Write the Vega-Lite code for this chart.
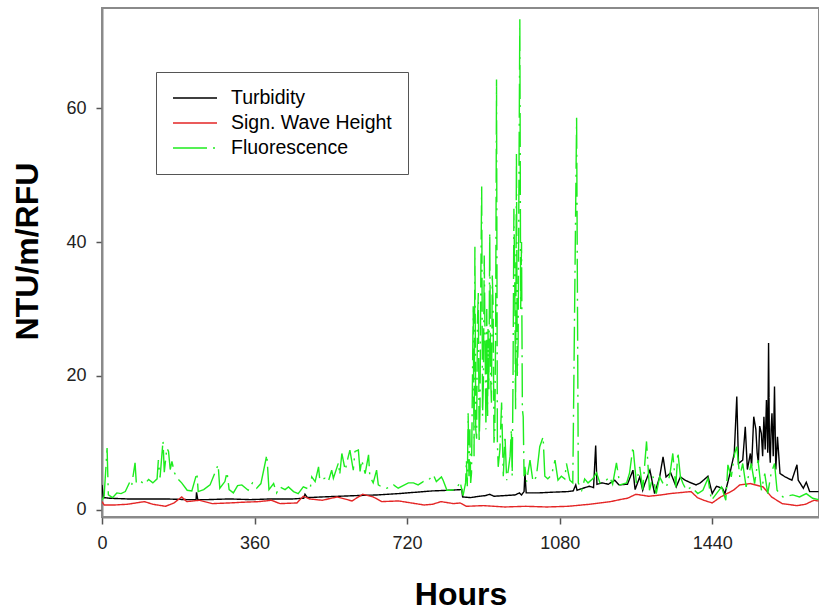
{
  "$schema": "https://vega.github.io/schema/vega-lite/v6.json",
  "width": 717,
  "height": 509,
  "autosize": {"type": "none"},
  "padding": {"left": 102, "top": 8, "right": 0, "bottom": 93},
  "background": "white",
  "config": {"font": "Liberation Sans", "view": {"stroke": "#8a8a8a", "strokeWidth": 2}},
  "data": {"values": [
    {"s":"Turbidity","h":0,"v":3.7},{"s":"Turbidity","h":3,"v":1.8},{"s":"Turbidity","h":20,"v":1.7},{"s":"Turbidity","h":60,"v":1.6},{"s":"Turbidity","h":100,"v":1.6},{"s":"Turbidity","h":150,"v":1.6},{"s":"Turbidity","h":200,"v":1.5},{"s":"Turbidity","h":222,"v":1.5},{"s":"Turbidity","h":223,"v":2.6},{"s":"Turbidity","h":226,"v":1.5},{"s":"Turbidity","h":250,"v":1.5},{"s":"Turbidity","h":300,"v":1.6},{"s":"Turbidity","h":350,"v":1.5},{"s":"Turbidity","h":400,"v":1.6},{"s":"Turbidity","h":450,"v":1.6},{"s":"Turbidity","h":476,"v":1.7},{"s":"Turbidity","h":479,"v":2.3},{"s":"Turbidity","h":485,"v":1.8},{"s":"Turbidity","h":520,"v":1.9},{"s":"Turbidity","h":560,"v":2.0},{"s":"Turbidity","h":600,"v":2.1},{"s":"Turbidity","h":650,"v":2.2},{"s":"Turbidity","h":700,"v":2.4},{"s":"Turbidity","h":740,"v":2.6},{"s":"Turbidity","h":780,"v":2.8},{"s":"Turbidity","h":820,"v":2.9},{"s":"Turbidity","h":849,"v":3.0},{"s":"Turbidity","h":851,"v":1.9},{"s":"Turbidity","h":870,"v":1.8},{"s":"Turbidity","h":890,"v":2.0},{"s":"Turbidity","h":905,"v":2.1},{"s":"Turbidity","h":915,"v":2.3},{"s":"Turbidity","h":925,"v":2.0},{"s":"Turbidity","h":950,"v":2.1},{"s":"Turbidity","h":975,"v":2.2},{"s":"Turbidity","h":985,"v":2.5},{"s":"Turbidity","h":990,"v":2.2},{"s":"Turbidity","h":996,"v":2.7},{"s":"Turbidity","h":998,"v":5.5},{"s":"Turbidity","h":1001,"v":2.5},{"s":"Turbidity","h":1030,"v":2.5},{"s":"Turbidity","h":1060,"v":2.6},{"s":"Turbidity","h":1100,"v":2.7},{"s":"Turbidity","h":1112,"v":2.8},{"s":"Turbidity","h":1118,"v":3.7},{"s":"Turbidity","h":1121,"v":2.9},{"s":"Turbidity","h":1135,"v":3.2},{"s":"Turbidity","h":1150,"v":3.5},{"s":"Turbidity","h":1160,"v":3.3},{"s":"Turbidity","h":1165,"v":9.6},{"s":"Turbidity","h":1168,"v":3.8},{"s":"Turbidity","h":1180,"v":4.0},{"s":"Turbidity","h":1195,"v":3.8},{"s":"Turbidity","h":1210,"v":4.4},{"s":"Turbidity","h":1220,"v":3.7},{"s":"Turbidity","h":1240,"v":3.8},{"s":"Turbidity","h":1253,"v":5.9},{"s":"Turbidity","h":1258,"v":3.0},{"s":"Turbidity","h":1269,"v":4.9},{"s":"Turbidity","h":1276,"v":2.9},{"s":"Turbidity","h":1281,"v":3.9},{"s":"Turbidity","h":1293,"v":5.9},{"s":"Turbidity","h":1304,"v":2.4},{"s":"Turbidity","h":1316,"v":4.9},{"s":"Turbidity","h":1324,"v":7.9},{"s":"Turbidity","h":1331,"v":4.9},{"s":"Turbidity","h":1342,"v":5.5},{"s":"Turbidity","h":1355,"v":3.4},{"s":"Turbidity","h":1365,"v":4.9},{"s":"Turbidity","h":1376,"v":4.4},{"s":"Turbidity","h":1390,"v":4.0},{"s":"Turbidity","h":1402,"v":3.7},{"s":"Turbidity","h":1412,"v":4.0},{"s":"Turbidity","h":1430,"v":5.0},{"s":"Turbidity","h":1440,"v":2.4},{"s":"Turbidity","h":1450,"v":3.5},{"s":"Turbidity","h":1464,"v":3.2},{"s":"Turbidity","h":1470,"v":2.4},{"s":"Turbidity","h":1480,"v":4.9},{"s":"Turbidity","h":1492,"v":8.4},{"s":"Turbidity","h":1498,"v":16.9},{"s":"Turbidity","h":1502,"v":6.9},{"s":"Turbidity","h":1512,"v":7.4},{"s":"Turbidity","h":1518,"v":12.4},{"s":"Turbidity","h":1523,"v":6.0},{"s":"Turbidity","h":1530,"v":8.4},{"s":"Turbidity","h":1533,"v":6.5},{"s":"Turbidity","h":1538,"v":13.9},{"s":"Turbidity","h":1543,"v":12.0},{"s":"Turbidity","h":1546,"v":8.5},{"s":"Turbidity","h":1549,"v":7.0},{"s":"Turbidity","h":1552,"v":12.5},{"s":"Turbidity","h":1556,"v":11.4},{"s":"Turbidity","h":1559,"v":8.0},{"s":"Turbidity","h":1562,"v":13.9},{"s":"Turbidity","h":1565,"v":9.0},{"s":"Turbidity","h":1568,"v":16.4},{"s":"Turbidity","h":1571,"v":8.5},{"s":"Turbidity","h":1573,"v":24.9},{"s":"Turbidity","h":1575,"v":9.5},{"s":"Turbidity","h":1577,"v":7.0},{"s":"Turbidity","h":1579,"v":12.0},{"s":"Turbidity","h":1581,"v":14.4},{"s":"Turbidity","h":1584,"v":8.0},{"s":"Turbidity","h":1587,"v":18.4},{"s":"Turbidity","h":1590,"v":6.0},{"s":"Turbidity","h":1594,"v":10.9},{"s":"Turbidity","h":1600,"v":5.4},{"s":"Turbidity","h":1612,"v":4.9},{"s":"Turbidity","h":1628,"v":4.4},{"s":"Turbidity","h":1640,"v":6.7},{"s":"Turbidity","h":1643,"v":4.4},{"s":"Turbidity","h":1655,"v":3.2},{"s":"Turbidity","h":1662,"v":4.1},{"s":"Turbidity","h":1670,"v":2.7},{"s":"Turbidity","h":1691,"v":2.7},

    {"s":"Sign. Wave Height","h":0,"v":1.2},{"s":"Sign. Wave Height","h":5,"v":0.7},{"s":"Sign. Wave Height","h":30,"v":0.7},{"s":"Sign. Wave Height","h":60,"v":0.8},{"s":"Sign. Wave Height","h":80,"v":1.0},{"s":"Sign. Wave Height","h":100,"v":1.2},{"s":"Sign. Wave Height","h":120,"v":0.8},{"s":"Sign. Wave Height","h":150,"v":0.5},{"s":"Sign. Wave Height","h":170,"v":1.0},{"s":"Sign. Wave Height","h":188,"v":1.9},{"s":"Sign. Wave Height","h":200,"v":1.2},{"s":"Sign. Wave Height","h":230,"v":1.4},{"s":"Sign. Wave Height","h":260,"v":0.9},{"s":"Sign. Wave Height","h":300,"v":1.0},{"s":"Sign. Wave Height","h":330,"v":1.1},{"s":"Sign. Wave Height","h":370,"v":1.2},{"s":"Sign. Wave Height","h":400,"v":1.4},{"s":"Sign. Wave Height","h":420,"v":0.9},{"s":"Sign. Wave Height","h":460,"v":1.0},{"s":"Sign. Wave Height","h":475,"v":2.0},{"s":"Sign. Wave Height","h":490,"v":1.6},{"s":"Sign. Wave Height","h":520,"v":1.4},{"s":"Sign. Wave Height","h":555,"v":1.9},{"s":"Sign. Wave Height","h":590,"v":1.3},{"s":"Sign. Wave Height","h":615,"v":2.3},{"s":"Sign. Wave Height","h":640,"v":1.9},{"s":"Sign. Wave Height","h":660,"v":1.2},{"s":"Sign. Wave Height","h":700,"v":1.3},{"s":"Sign. Wave Height","h":730,"v":1.0},{"s":"Sign. Wave Height","h":760,"v":0.7},{"s":"Sign. Wave Height","h":780,"v":0.8},{"s":"Sign. Wave Height","h":800,"v":1.2},{"s":"Sign. Wave Height","h":830,"v":0.9},{"s":"Sign. Wave Height","h":845,"v":1.0},{"s":"Sign. Wave Height","h":860,"v":0.5},{"s":"Sign. Wave Height","h":900,"v":0.6},{"s":"Sign. Wave Height","h":950,"v":0.4},{"s":"Sign. Wave Height","h":1000,"v":0.5},{"s":"Sign. Wave Height","h":1050,"v":0.4},{"s":"Sign. Wave Height","h":1100,"v":0.5},{"s":"Sign. Wave Height","h":1150,"v":0.8},{"s":"Sign. Wave Height","h":1200,"v":1.2},{"s":"Sign. Wave Height","h":1230,"v":1.6},{"s":"Sign. Wave Height","h":1240,"v":1.7},{"s":"Sign. Wave Height","h":1260,"v":2.3},{"s":"Sign. Wave Height","h":1290,"v":2.0},{"s":"Sign. Wave Height","h":1320,"v":2.2},{"s":"Sign. Wave Height","h":1340,"v":2.4},{"s":"Sign. Wave Height","h":1390,"v":2.7},{"s":"Sign. Wave Height","h":1405,"v":1.8},{"s":"Sign. Wave Height","h":1420,"v":1.4},{"s":"Sign. Wave Height","h":1440,"v":1.0},{"s":"Sign. Wave Height","h":1460,"v":1.9},{"s":"Sign. Wave Height","h":1490,"v":2.9},{"s":"Sign. Wave Height","h":1505,"v":3.7},{"s":"Sign. Wave Height","h":1530,"v":3.9},{"s":"Sign. Wave Height","h":1560,"v":3.4},{"s":"Sign. Wave Height","h":1580,"v":1.9},{"s":"Sign. Wave Height","h":1605,"v":0.9},{"s":"Sign. Wave Height","h":1640,"v":0.6},{"s":"Sign. Wave Height","h":1660,"v":0.8},{"s":"Sign. Wave Height","h":1680,"v":1.4},{"s":"Sign. Wave Height","h":1691,"v":1.3},

    {"s":"Fluorescence","h":0,"v":1.4},{"s":"Fluorescence","h":5,"v":2.0},{"s":"Fluorescence","h":12,"v":9.2},{"s":"Fluorescence","h":15,"v":2.2},{"s":"Fluorescence","h":25,"v":1.8},{"s":"Fluorescence","h":35,"v":2.5},{"s":"Fluorescence","h":45,"v":2.4},{"s":"Fluorescence","h":55,"v":2.7},{"s":"Fluorescence","h":66,"v":4.2},{"s":"Fluorescence","h":70,"v":3.6},{"s":"Fluorescence","h":78,"v":7.0},{"s":"Fluorescence","h":81,"v":4.0},{"s":"Fluorescence","h":90,"v":4.3},{"s":"Fluorescence","h":100,"v":3.8},{"s":"Fluorescence","h":110,"v":4.5},{"s":"Fluorescence","h":120,"v":4.0},{"s":"Fluorescence","h":130,"v":4.6},{"s":"Fluorescence","h":133,"v":7.4},{"s":"Fluorescence","h":137,"v":4.8},{"s":"Fluorescence","h":144,"v":10.3},{"s":"Fluorescence","h":147,"v":5.6},{"s":"Fluorescence","h":153,"v":9.2},{"s":"Fluorescence","h":157,"v":8.7},{"s":"Fluorescence","h":161,"v":6.0},{"s":"Fluorescence","h":165,"v":7.2},{"s":"Fluorescence","h":171,"v":5.5},{"s":"Fluorescence","h":179,"v":4.6},{"s":"Fluorescence","h":188,"v":4.0},{"s":"Fluorescence","h":201,"v":2.9},{"s":"Fluorescence","h":212,"v":2.8},{"s":"Fluorescence","h":224,"v":5.5},{"s":"Fluorescence","h":227,"v":2.7},{"s":"Fluorescence","h":240,"v":3.0},{"s":"Fluorescence","h":255,"v":3.7},{"s":"Fluorescence","h":274,"v":6.7},{"s":"Fluorescence","h":278,"v":3.2},{"s":"Fluorescence","h":290,"v":4.2},{"s":"Fluorescence","h":295,"v":5.6},{"s":"Fluorescence","h":300,"v":3.0},{"s":"Fluorescence","h":310,"v":2.5},{"s":"Fluorescence","h":320,"v":3.6},{"s":"Fluorescence","h":330,"v":3.7},{"s":"Fluorescence","h":345,"v":2.9},{"s":"Fluorescence","h":355,"v":4.0},{"s":"Fluorescence","h":365,"v":3.2},{"s":"Fluorescence","h":375,"v":3.9},{"s":"Fluorescence","h":389,"v":8.2},{"s":"Fluorescence","h":394,"v":3.0},{"s":"Fluorescence","h":405,"v":3.9},{"s":"Fluorescence","h":412,"v":2.5},{"s":"Fluorescence","h":420,"v":3.4},{"s":"Fluorescence","h":432,"v":3.0},{"s":"Fluorescence","h":440,"v":3.4},{"s":"Fluorescence","h":452,"v":2.7},{"s":"Fluorescence","h":463,"v":2.4},{"s":"Fluorescence","h":475,"v":3.4},{"s":"Fluorescence","h":491,"v":3.0},{"s":"Fluorescence","h":495,"v":4.9},{"s":"Fluorescence","h":503,"v":4.2},{"s":"Fluorescence","h":511,"v":6.4},{"s":"Fluorescence","h":514,"v":4.4},{"s":"Fluorescence","h":526,"v":4.7},{"s":"Fluorescence","h":534,"v":4.2},{"s":"Fluorescence","h":542,"v":5.9},{"s":"Fluorescence","h":546,"v":4.7},{"s":"Fluorescence","h":558,"v":7.0},{"s":"Fluorescence","h":561,"v":5.2},{"s":"Fluorescence","h":566,"v":8.4},{"s":"Fluorescence","h":574,"v":5.9},{"s":"Fluorescence","h":581,"v":7.9},{"s":"Fluorescence","h":585,"v":8.9},{"s":"Fluorescence","h":593,"v":5.9},{"s":"Fluorescence","h":597,"v":8.7},{"s":"Fluorescence","h":605,"v":8.9},{"s":"Fluorescence","h":609,"v":5.7},{"s":"Fluorescence","h":613,"v":7.4},{"s":"Fluorescence","h":621,"v":5.4},{"s":"Fluorescence","h":629,"v":8.2},{"s":"Fluorescence","h":632,"v":5.0},{"s":"Fluorescence","h":640,"v":4.0},{"s":"Fluorescence","h":648,"v":5.9},{"s":"Fluorescence","h":652,"v":3.7},{"s":"Fluorescence","h":660,"v":3.4},{"s":"Fluorescence","h":672,"v":3.2},{"s":"Fluorescence","h":688,"v":3.7},{"s":"Fluorescence","h":699,"v":3.2},{"s":"Fluorescence","h":723,"v":4.0},{"s":"Fluorescence","h":735,"v":4.0},{"s":"Fluorescence","h":746,"v":3.7},{"s":"Fluorescence","h":758,"v":4.2},{"s":"Fluorescence","h":770,"v":4.4},{"s":"Fluorescence","h":782,"v":5.2},{"s":"Fluorescence","h":789,"v":4.2},{"s":"Fluorescence","h":801,"v":4.9},{"s":"Fluorescence","h":805,"v":4.4},{"s":"Fluorescence","h":814,"v":2.9},{"s":"Fluorescence","h":821,"v":2.9},{"s":"Fluorescence","h":833,"v":3.0},{"s":"Fluorescence","h":837,"v":3.1},{"s":"Fluorescence","h":845,"v":4.2},{"s":"Fluorescence","h":852,"v":2.1},{"s":"Fluorescence","h":858,"v":4.0},{"s":"Fluorescence","h":860,"v":7.4},{"s":"Fluorescence","h":862,"v":3.5},{"s":"Fluorescence","h":864,"v":14.4},{"s":"Fluorescence","h":866,"v":5.0},{"s":"Fluorescence","h":868,"v":12.0},{"s":"Fluorescence","h":870,"v":4.0},{"s":"Fluorescence","h":872,"v":5.5},{"s":"Fluorescence","h":874,"v":18.0},{"s":"Fluorescence","h":876,"v":30.4},{"s":"Fluorescence","h":878,"v":8.0},{"s":"Fluorescence","h":880,"v":39.3},{"s":"Fluorescence","h":882,"v":12.0},{"s":"Fluorescence","h":884,"v":10.6},{"s":"Fluorescence","h":886,"v":28.0},{"s":"Fluorescence","h":888,"v":32.4},{"s":"Fluorescence","h":890,"v":10.0},{"s":"Fluorescence","h":892,"v":15.0},{"s":"Fluorescence","h":894,"v":35.0},{"s":"Fluorescence","h":896,"v":48.3},{"s":"Fluorescence","h":898,"v":14.0},{"s":"Fluorescence","h":900,"v":19.0},{"s":"Fluorescence","h":902,"v":38.0},{"s":"Fluorescence","h":904,"v":25.0},{"s":"Fluorescence","h":906,"v":12.0},{"s":"Fluorescence","h":908,"v":30.0},{"s":"Fluorescence","h":910,"v":14.0},{"s":"Fluorescence","h":911,"v":27.0},{"s":"Fluorescence","h":913,"v":18.0},{"s":"Fluorescence","h":915,"v":41.4},{"s":"Fluorescence","h":917,"v":20.0},{"s":"Fluorescence","h":919,"v":16.0},{"s":"Fluorescence","h":921,"v":35.0},{"s":"Fluorescence","h":923,"v":30.4},{"s":"Fluorescence","h":925,"v":10.0},{"s":"Fluorescence","h":927,"v":12.0},{"s":"Fluorescence","h":929,"v":28.0},{"s":"Fluorescence","h":931,"v":64.3},{"s":"Fluorescence","h":933,"v":10.0},{"s":"Fluorescence","h":935,"v":6.4},{"s":"Fluorescence","h":939,"v":9.0},{"s":"Fluorescence","h":943,"v":16.0},{"s":"Fluorescence","h":947,"v":5.0},{"s":"Fluorescence","h":951,"v":11.0},{"s":"Fluorescence","h":955,"v":4.4},{"s":"Fluorescence","h":959,"v":6.0},{"s":"Fluorescence","h":963,"v":8.0},{"s":"Fluorescence","h":966,"v":12.0},{"s":"Fluorescence","h":968,"v":5.0},{"s":"Fluorescence","h":970,"v":20.0},{"s":"Fluorescence","h":972,"v":45.0},{"s":"Fluorescence","h":974,"v":35.0},{"s":"Fluorescence","h":976,"v":15.0},{"s":"Fluorescence","h":978,"v":53.3},{"s":"Fluorescence","h":980,"v":20.0},{"s":"Fluorescence","h":982,"v":25.0},{"s":"Fluorescence","h":984,"v":50.0},{"s":"Fluorescence","h":986,"v":73.3},{"s":"Fluorescence","h":988,"v":30.0},{"s":"Fluorescence","h":990,"v":40.0},{"s":"Fluorescence","h":992,"v":15.0},{"s":"Fluorescence","h":994,"v":13.9},{"s":"Fluorescence","h":996,"v":5.0},{"s":"Fluorescence","h":998,"v":6.4},{"s":"Fluorescence","h":1002,"v":4.2},{"s":"Fluorescence","h":1010,"v":7.4},{"s":"Fluorescence","h":1017,"v":4.2},{"s":"Fluorescence","h":1025,"v":4.9},{"s":"Fluorescence","h":1033,"v":9.4},{"s":"Fluorescence","h":1041,"v":10.9},{"s":"Fluorescence","h":1045,"v":5.0},{"s":"Fluorescence","h":1052,"v":4.6},{"s":"Fluorescence","h":1061,"v":5.2},{"s":"Fluorescence","h":1069,"v":7.4},{"s":"Fluorescence","h":1076,"v":4.4},{"s":"Fluorescence","h":1084,"v":5.0},{"s":"Fluorescence","h":1092,"v":4.6},{"s":"Fluorescence","h":1096,"v":6.9},{"s":"Fluorescence","h":1104,"v":4.4},{"s":"Fluorescence","h":1111,"v":4.0},{"s":"Fluorescence","h":1120,"v":58.6},{"s":"Fluorescence","h":1124,"v":4.0},{"s":"Fluorescence","h":1132,"v":2.9},{"s":"Fluorescence","h":1139,"v":4.6},{"s":"Fluorescence","h":1147,"v":4.0},{"s":"Fluorescence","h":1158,"v":4.6},{"s":"Fluorescence","h":1167,"v":5.5},{"s":"Fluorescence","h":1175,"v":4.0},{"s":"Fluorescence","h":1190,"v":4.4},{"s":"Fluorescence","h":1198,"v":4.9},{"s":"Fluorescence","h":1205,"v":3.8},{"s":"Fluorescence","h":1214,"v":7.0},{"s":"Fluorescence","h":1222,"v":3.7},{"s":"Fluorescence","h":1238,"v":4.0},{"s":"Fluorescence","h":1245,"v":5.5},{"s":"Fluorescence","h":1253,"v":9.4},{"s":"Fluorescence","h":1261,"v":4.0},{"s":"Fluorescence","h":1269,"v":6.4},{"s":"Fluorescence","h":1276,"v":3.0},{"s":"Fluorescence","h":1285,"v":10.2},{"s":"Fluorescence","h":1292,"v":2.9},{"s":"Fluorescence","h":1300,"v":5.0},{"s":"Fluorescence","h":1308,"v":2.4},{"s":"Fluorescence","h":1316,"v":4.9},{"s":"Fluorescence","h":1324,"v":3.9},{"s":"Fluorescence","h":1332,"v":3.4},{"s":"Fluorescence","h":1340,"v":5.2},{"s":"Fluorescence","h":1347,"v":8.4},{"s":"Fluorescence","h":1354,"v":3.4},{"s":"Fluorescence","h":1359,"v":8.6},{"s":"Fluorescence","h":1365,"v":4.9},{"s":"Fluorescence","h":1371,"v":3.9},{"s":"Fluorescence","h":1379,"v":2.9},{"s":"Fluorescence","h":1391,"v":3.4},{"s":"Fluorescence","h":1406,"v":2.4},{"s":"Fluorescence","h":1418,"v":2.9},{"s":"Fluorescence","h":1430,"v":4.7},{"s":"Fluorescence","h":1438,"v":1.4},{"s":"Fluorescence","h":1450,"v":2.4},{"s":"Fluorescence","h":1462,"v":3.4},{"s":"Fluorescence","h":1472,"v":1.4},{"s":"Fluorescence","h":1477,"v":6.7},{"s":"Fluorescence","h":1485,"v":4.9},{"s":"Fluorescence","h":1493,"v":8.4},{"s":"Fluorescence","h":1498,"v":9.4},{"s":"Fluorescence","h":1505,"v":4.9},{"s":"Fluorescence","h":1512,"v":6.9},{"s":"Fluorescence","h":1520,"v":3.4},{"s":"Fluorescence","h":1532,"v":6.9},{"s":"Fluorescence","h":1540,"v":3.9},{"s":"Fluorescence","h":1548,"v":7.4},{"s":"Fluorescence","h":1556,"v":2.9},{"s":"Fluorescence","h":1564,"v":5.4},{"s":"Fluorescence","h":1571,"v":2.4},{"s":"Fluorescence","h":1579,"v":5.4},{"s":"Fluorescence","h":1587,"v":6.9},{"s":"Fluorescence","h":1593,"v":2.9},{"s":"Fluorescence","h":1599,"v":2.4},{"s":"Fluorescence","h":1607,"v":1.9},{"s":"Fluorescence","h":1630,"v":2.2},{"s":"Fluorescence","h":1646,"v":1.9},{"s":"Fluorescence","h":1662,"v":2.4},{"s":"Fluorescence","h":1677,"v":1.7},{"s":"Fluorescence","h":1691,"v":1.5}
  ]},
  "mark": {"type": "line", "strokeWidth": 1.4, "clip": true},
  "encoding": {
    "x": {
      "field": "h", "type": "quantitative",
      "scale": {"domain": [0, 1692], "nice": false, "zero": false},
      "axis": {
        "values": [0, 360, 720, 1080, 1440], "format": "d", "grid": false, "title": "Hours",
        "titleFontSize": 32, "titleFontWeight": "bold", "titleColor": "black", "titleFont": "Liberation Sans",
        "titleY": 87, "titleBaseline": "alphabetic",
        "labelFontSize": 18, "labelColor": "#222", "labelFont": "Liberation Sans", "labelPadding": 10, "labelFlush": false,
        "tickSize": 7, "tickColor": "#555", "tickWidth": 1.5,
        "domainColor": "#8a8a8a", "domainWidth": 2
      }
    },
    "y": {
      "field": "v", "type": "quantitative",
      "scale": {"domain": [-1.1, 75], "nice": false, "zero": false},
      "axis": {
        "values": [0, 20, 40, 60], "grid": false, "title": "NTU/m/RFU",
        "titleFontSize": 32, "titleFontWeight": "bold", "titleColor": "black", "titleFont": "Liberation Sans",
        "titleX": -65, "titleY": 243, "titleAlign": "center", "titleBaseline": "alphabetic", "titleAngle": -90,
        "labelFontSize": 18, "labelColor": "#222", "labelFont": "Liberation Sans", "labelPadding": 10,
        "tickSize": 6, "tickColor": "#555", "tickWidth": 1.5,
        "domainColor": "#8a8a8a", "domainWidth": 2
      }
    },
    "color": {
      "field": "s", "type": "nominal",
      "scale": {"domain": ["Turbidity", "Sign. Wave Height", "Fluorescence"], "range": ["#000000", "#e42626", "#1eec1e"]},
      "legend": {
        "title": null, "orient": "none", "legendX": 54, "legendY": 64,
        "strokeColor": "#555", "fillColor": "white", "padding": 16,
        "labelFontSize": 19.5, "labelColor": "black", "labelFont": "Liberation Sans", "labelOffset": 13, "labelLimit": 400,
        "symbolType": "stroke", "symbolSize": 1936, "symbolStrokeWidth": 1.5,
        "clipHeight": 20, "rowPadding": 5
      }
    },
    "strokeDash": {
      "field": "s", "type": "nominal",
      "scale": {"domain": ["Turbidity", "Sign. Wave Height", "Fluorescence"], "range": [[1, 0], [1, 0], [34, 6, 2, 6]]},
      "legend": {
        "title": null, "orient": "none", "legendX": 54, "legendY": 64,
        "strokeColor": "#555", "fillColor": "white", "padding": 16,
        "labelFontSize": 19.5, "labelColor": "black", "labelFont": "Liberation Sans", "labelOffset": 13, "labelLimit": 400,
        "symbolType": "stroke", "symbolSize": 1936, "symbolStrokeWidth": 1.5,
        "clipHeight": 20, "rowPadding": 5
      }
    }
  }
}
